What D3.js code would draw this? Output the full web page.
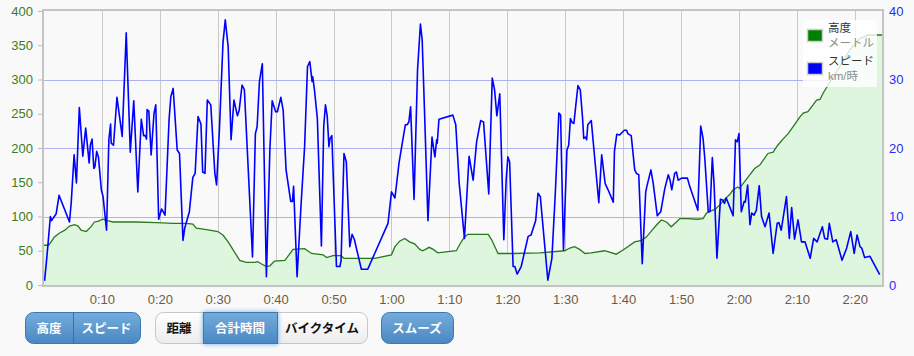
<!DOCTYPE html>
<html>
<head>
<meta charset="utf-8">
<script src="https://cdn.jsdelivr.net/npm/d3@7"></script>
<style>
  html, body { margin: 0; padding: 0; background: #f9f9f9; }
  svg { display: block; }
  text { font-family: "Liberation Sans", Arial, sans-serif; }
  .jp { font-family: "Noto Sans CJK JP", "Noto Sans", sans-serif; }
</style>
</head>
<body>
<div id="chart"></div>
<script>
// Elapsed time (minutes) and speed (km/h)
const speedTime = [0.1,0.5,1.1,1.3,2.1,2.6,4.4,4.7,5.2,5.6,6.1,6.7,7.2,7.8,8.0,8.3,8.6,8.8,9.1,9.4,9.9,10.2,10.8,11.2,11.5,11.6,12.0,12.6,13.5,14.2,14.9,15.5,16.2,16.8,17.2,17.5,17.7,17.8,18.1,18.5,19.0,19.3,19.8,20.3,20.9,21.6,21.9,22.3,23.0,23.4,24.0,24.3,25.1,25.7,26.1,26.6,27.1,27.4,27.8,28.2,28.8,29.5,29.8,30.3,30.9,31.3,31.8,32.3,32.8,33.4,33.7,34.2,34.6,36.0,36.5,36.8,37.2,37.7,38.4,39.0,39.4,40.0,40.3,40.9,41.3,41.8,42.6,42.9,43.1,43.7,44.4,45.0,45.5,45.9,46.3,46.4,46.7,47.2,47.9,48.3,48.6,48.9,49.2,49.4,49.7,50.5,51.1,51.3,51.8,52.2,52.8,53.2,53.6,54.8,55.9,57.1,59.4,60.0,60.6,61.3,61.9,62.4,62.7,63.0,63.3,63.9,64.5,65.0,65.3,65.7,66.3,67.0,67.5,67.8,67.9,68.2,70.6,71.1,71.7,72.6,73.4,74.1,74.7,75.4,75.9,76.8,77.4,77.8,78.2,78.7,79.4,79.8,80.1,80.4,81.0,81.3,81.7,82.4,83.6,84.1,84.9,85.3,85.7,87.0,87.7,88.3,88.9,89.2,89.7,90.3,90.6,90.9,91.2,91.5,91.8,92.2,92.6,93.0,93.2,93.5,93.7,93.9,94.5,95.8,96.3,96.9,97.4,98.3,98.5,98.9,99.4,100.2,100.6,100.8,101.4,102.0,102.3,102.7,103.3,103.9,104.1,104.8,105.2,105.9,106.5,107.2,107.8,108.1,108.4,108.9,109.2,109.5,110.1,111.1,111.5,112.9,113.4,113.8,114.1,114.7,115.0,115.4,115.7,116.2,116.8,117.2,117.5,117.8,118.4,119.0,119.4,119.7,120.0,120.4,120.9,121.1,121.5,121.9,122.2,122.6,123.0,123.5,123.9,124.5,125.2,125.9,126.6,126.9,127.3,128.2,128.7,129.1,129.6,130.2,130.8,131.4,132.3,132.9,133.5,134.4,134.8,135.3,135.6,136.2,136.8,137.8,138.6,139.3,139.9,140.4,140.9,141.2,141.7,142.6,144.3];
const speedKmh = [0.6,4.1,10.0,9.4,10.4,13.1,9.2,12.0,19.0,14.9,25.9,18.8,22.9,17.8,20.4,21.3,17.0,17.3,19.5,18.7,13.9,12.9,8.0,21.2,23.5,20.7,20.4,27.4,21.7,36.8,19.4,26.9,13.6,24.2,21.8,21.8,21.3,25.6,25.4,19.0,25.1,26.3,9.6,11.1,10.2,24.2,27.5,28.7,19.7,19.2,6.5,8.3,10.7,15.7,16.3,24.6,23.5,16.5,16.3,27.0,26.3,16.3,14.6,22.9,35.3,38.7,34.8,21.2,27.0,24.7,25.5,29.2,28.5,4.1,22.1,23.1,29.7,32.3,1.2,19.7,26.9,25.3,25.3,27.4,25.5,16.8,12.2,12.2,14.4,1.2,11.9,20.2,31.9,32.6,29.7,30.4,28.5,24.3,5.7,23.1,26.3,24.7,20.2,21.4,21.8,2.7,2.7,3.6,19.2,18.0,5.6,7.4,6.6,2.3,2.3,4.6,9.0,13.6,12.7,17.8,20.9,23.4,23.4,23.8,26.0,12.5,31.4,38.1,35.8,25.5,9.4,21.6,18.7,21.2,20.7,24.2,24.8,23.4,14.8,6.8,18.8,15.3,20.9,24.0,23.8,13.3,30.2,28.5,24.7,27.9,6.6,15.3,18.7,18.0,2.7,2.7,1.6,2.7,7.1,7.3,9.4,13.4,12.9,0.7,3.9,13.6,25.1,24.8,5.1,19.7,20.4,24.3,23.7,23.6,26.0,29.1,28.5,24.3,21.4,21.6,21.2,23.4,24.0,12.0,19.0,14.8,13.9,12.1,19.5,22.0,21.9,22.6,22.6,22.1,21.8,16.8,16.3,16.1,3.1,13.6,14.4,16.8,14.8,10.1,10.7,14.1,16.1,15.3,13.9,16.3,16.5,15.3,15.6,15.6,14.4,10.9,23.2,21.4,18.5,10.7,10.7,18.6,14.8,3.9,12.5,12.4,11.9,12.7,11.4,10.1,21.2,20.9,22.1,10.7,12.2,12.1,14.6,8.8,10.5,10.2,10.9,14.5,10.0,8.5,10.5,4.6,9.0,9.1,8.0,12.9,6.8,11.3,6.7,9.5,6.3,6.3,3.9,6.8,6.3,8.5,6.8,6.7,9.0,6.3,6.6,3.6,5.4,7.8,4.6,7.3,5.6,5.4,4.0,4.2,1.5];

// Elapsed time (minutes) and altitude (m)
const altTime = [0,0.8,1.8,2.7,3.6,4.4,5.3,5.9,6.4,7.3,8.2,8.7,9.3,10.2,11.0,11.9,14.2,15.9,19.4,22.3,24.6,25.7,26.3,27.2,28.6,30.0,30.9,31.8,32.6,33.8,34.9,36.4,36.9,37.5,38.4,39.0,39.8,41.6,43.0,45.0,46.2,48.2,48.8,49.9,51.3,51.8,57.1,60.0,60.6,61.4,62.3,63.1,64.0,64.9,65.4,66.5,67.2,68.0,71.2,71.9,72.6,73.2,76.7,77.3,78.4,81.0,85.6,89.9,90.8,91.6,92.5,93.4,94.5,96.8,98.8,100.0,102.0,103.2,104.0,104.9,105.8,106.6,107.5,108.3,109.2,109.8,111.2,112.8,113.8,114.4,115.0,115.8,116.7,117.5,118.4,119.0,119.8,120.1,120.7,121.9,122.7,123.6,124.5,125.0,125.9,126.7,127.6,128.5,129.6,130.5,131.1,131.9,132.8,133.4,134.0,134.6,135.4,137.4,139.1,140.9,142.3,144.7];
const altMeters = [58,58,70,76,80,86,88,86,80,78,86,92,93,96,94,92,92,92,91,90,90,89,83,82,80,78,73,63,52,36,33,33,34,31,27,28,35,36,52,53,46,44,40,43,43,39,39,44,56,64,68,63,60,52,50,55,52,47,50,61,70,74,74,66,46,46,47,50,54,56,52,46,47,50,45,51,63,65,70,79,88,95,92,85,92,97,97,96,97,105,108,110,117,125,132,139,143,141,148,161,170,175,186,192,194,204,213,221,234,245,251,253,263,270,271,281,292,319,343,360,365,365];

// Axis ticks
const altTicks = [0, 50, 100, 150, 200, 250, 300, 350, 400];
const speedTicks = [0, 10, 20, 30, 40];
const timeTicks = [10, 20, 30, 40, 50, 60, 70, 80, 90, 100, 110, 120, 130, 140];

// Legend and buttons
const legendItems = [
  { name: "高度", unit: "メートル", color: "#008000" },
  { name: "スピード", unit: "km/時", color: "#0000ff" }
];
const seriesButtons = ["高度", "スピード"];
const axisButtons = ["距離", "合計時間", "バイクタイム"];
const smoothButtons = ["スムーズ"];

const W = 914, H = 356;
const plot = { left: 44, right: 882, top: 11, bottom: 285 };

const svg = d3.select("#chart").append("svg").attr("width", W).attr("height", H);

const x = d3.scaleLinear().domain([0, 144.7]).range([plot.left, plot.right]);
const yAlt = d3.scaleLinear().domain([0, 400]).range([plot.bottom, plot.top]);
const ySpd = d3.scaleLinear().domain([0, 40]).range([plot.bottom, plot.top]);

const defs = svg.append("defs");
const blueGrad = defs.append("linearGradient").attr("id", "btnBlue").attr("x1", 0).attr("y1", 0).attr("x2", 0).attr("y2", 1);
blueGrad.append("stop").attr("offset", "0%").attr("stop-color", "#74acdc");
blueGrad.append("stop").attr("offset", "100%").attr("stop-color", "#4a88c2");
const whiteGrad = defs.append("linearGradient").attr("id", "btnWhite").attr("x1", 0).attr("y1", 0).attr("x2", 0).attr("y2", 1);
whiteGrad.append("stop").attr("offset", "0%").attr("stop-color", "#ffffff");
whiteGrad.append("stop").attr("offset", "100%").attr("stop-color", "#ececec");
const glow = defs.append("filter").attr("id", "glow").attr("x", "-30%").attr("y", "-40%").attr("width", "160%").attr("height", "180%");
glow.append("feDropShadow").attr("dx", 0).attr("dy", 0).attr("stdDeviation", 2.5).attr("flood-color", "#5aa0e6").attr("flood-opacity", 0.9);
defs.append("clipPath").attr("id", "plotClip").append("rect")
  .attr("x", plot.left).attr("y", plot.top).attr("width", plot.right - plot.left).attr("height", plot.bottom - plot.top);

// Plot background
svg.append("rect").attr("x", plot.left).attr("y", plot.top)
  .attr("width", plot.right - plot.left).attr("height", plot.bottom - plot.top)
  .attr("fill", "#f9f9f9");

// Vertical time grid
svg.append("g").selectAll("line").data(timeTicks).join("line")
  .attr("x1", d => Math.round(x(d)) + 0.5).attr("x2", d => Math.round(x(d)) + 0.5)
  .attr("y1", plot.top).attr("y2", plot.bottom)
  .attr("stroke", "#c9c9c9").attr("stroke-width", 1);

// Horizontal speed grid
svg.append("g").selectAll("line").data(speedTicks.filter(d => d > 0 && d < 40)).join("line")
  .attr("x1", plot.left).attr("x2", plot.right)
  .attr("y1", d => Math.round(ySpd(d)) + 0.5).attr("y2", d => Math.round(ySpd(d)) + 0.5)
  .attr("stroke", "#aeb2f5").attr("stroke-width", 1);

const alt = altTime.map((t, i) => ({ t, v: altMeters[i] }));
const spd = speedTime.map((t, i) => ({ t, v: speedKmh[i] }));

const plotG = svg.append("g").attr("clip-path", "url(#plotClip)");

plotG.append("path").datum(alt)
  .attr("d", d3.area().x(d => x(d.t)).y0(plot.bottom).y1(d => yAlt(d.v)))
  .attr("fill", "#dff6de");
plotG.append("path").datum(alt)
  .attr("d", d3.line().x(d => x(d.t)).y(d => yAlt(d.v)))
  .attr("fill", "none").attr("stroke", "#267a1e").attr("stroke-width", 1.3);

plotG.append("path").datum(spd)
  .attr("d", d3.line().x(d => x(d.t)).y(d => ySpd(d.v)))
  .attr("fill", "none").attr("stroke", "#0000ff").attr("stroke-width", 1.6)
  .attr("stroke-linejoin", "round");

// Plot frame
svg.append("rect").attr("x", plot.left - 1).attr("y", plot.top - 1)
  .attr("width", plot.right - plot.left + 2).attr("height", plot.bottom - plot.top + 2)
  .attr("fill", "none").attr("stroke", "#c4c4c4").attr("stroke-width", 2);

// Left axis (altitude)
const leftAxis = svg.append("g").attr("transform", `translate(${plot.left - 1},0)`)
  .call(d3.axisLeft(yAlt).tickValues(altTicks).tickSize(5).tickPadding(5));
leftAxis.select(".domain").remove();
leftAxis.selectAll(".tick line").attr("stroke", "#bbbbbb");
leftAxis.selectAll(".tick text").attr("fill", "#3b7d1c").style("font-size", "13px")
  .style("font-family", "'Liberation Sans', Arial, sans-serif");

// Right axis (speed)
const rightAxis = svg.append("g").attr("transform", `translate(${plot.right + 1},0)`)
  .call(d3.axisRight(ySpd).tickValues(speedTicks).tickSize(0).tickPadding(6));
rightAxis.select(".domain").remove();
rightAxis.selectAll(".tick text").attr("fill", "#2b2bf0").style("font-size", "13px")
  .style("font-family", "'Liberation Sans', Arial, sans-serif");

// Time axis
const fmtTime = m => `${Math.floor(m / 60)}:${String(m % 60).padStart(2, "0")}`;
const bottomAxis = svg.append("g").attr("transform", `translate(0,${plot.bottom + 1})`)
  .call(d3.axisBottom(x).tickValues(timeTicks).tickFormat(fmtTime).tickSize(0).tickPadding(9));
bottomAxis.select(".domain").remove();
bottomAxis.selectAll(".tick text").attr("fill", "#6f5b43").style("font-size", "13px")
  .style("font-family", "'Liberation Sans', Arial, sans-serif");

// Legend
const lg = svg.append("g");
lg.append("rect").attr("x", 803).attr("y", 20).attr("width", 74).attr("height", 67)
  .attr("fill", "#ffffff").attr("fill-opacity", 0.8);
legendItems.forEach((item, i) => {
  const y0 = 29 + i * 33;
  lg.append("rect").attr("x", 807.5).attr("y", y0 + 0.5).attr("width", 15).attr("height", 12)
    .attr("fill", item.color).attr("stroke", "#cfcfcf").attr("stroke-width", 1.5);
  lg.append("text").attr("class", "jp").attr("x", 828).attr("y", y0 + 3)
    .attr("fill", "#333").style("font-size", "11.5px").text(item.name);
  lg.append("text").attr("x", 828).attr("y", y0 + 18)
    .attr("fill", "#8c8c8c").style("font-size", "11.5px")
    .style("font-family", i === 0 ? "'Noto Sans CJK JP', sans-serif" : "'Liberation Sans', 'Noto Sans CJK JP', sans-serif")
    .text(item.unit);
});

// Button groups
function buttonGroup(x0, widths, labels, activeFn) {
  const h = 31, y0 = 312, r = 8;
  const total = d3.sum(widths);
  const g = svg.append("g");
  const allBlue = labels.every((l, i) => activeFn(i));
  g.append("rect").attr("x", x0 + 0.5).attr("y", y0 + 0.5).attr("width", total).attr("height", h)
    .attr("rx", r).attr("fill", allBlue ? "url(#btnBlue)" : "url(#btnWhite)")
    .attr("stroke", allBlue ? "#3c78ae" : "#c6c6c6");
  let cx = x0;
  labels.forEach((label, i) => {
    const w = widths[i];
    if (activeFn(i) && !allBlue) {
      g.append("rect").attr("x", cx + 0.5).attr("y", y0 + 0.5).attr("width", w).attr("height", h)
        .attr("fill", "url(#btnBlue)").attr("stroke", "#3c78ae").attr("filter", "url(#glow)");
    }
    if (i > 0 && allBlue) {
      g.append("line").attr("x1", cx + 0.5).attr("x2", cx + 0.5).attr("y1", y0 + 1).attr("y2", y0 + h)
        .attr("stroke", "#3a6f9f");
    }
    g.append("text").attr("class", "jp").attr("x", cx + w / 2).attr("y", y0 + h / 2 + 5)
      .attr("text-anchor", "middle").style("font-size", "12.5px").style("font-weight", "bold")
      .attr("fill", activeFn(i) ? "#ffffff" : "#111111").text(label);
    cx += w;
  });
}
buttonGroup(25, [48, 67], seriesButtons, () => true);
buttonGroup(155, [48, 74, 90], axisButtons, i => i === 1);
buttonGroup(381, [72], smoothButtons, () => true);
</script>
</body>
</html>
